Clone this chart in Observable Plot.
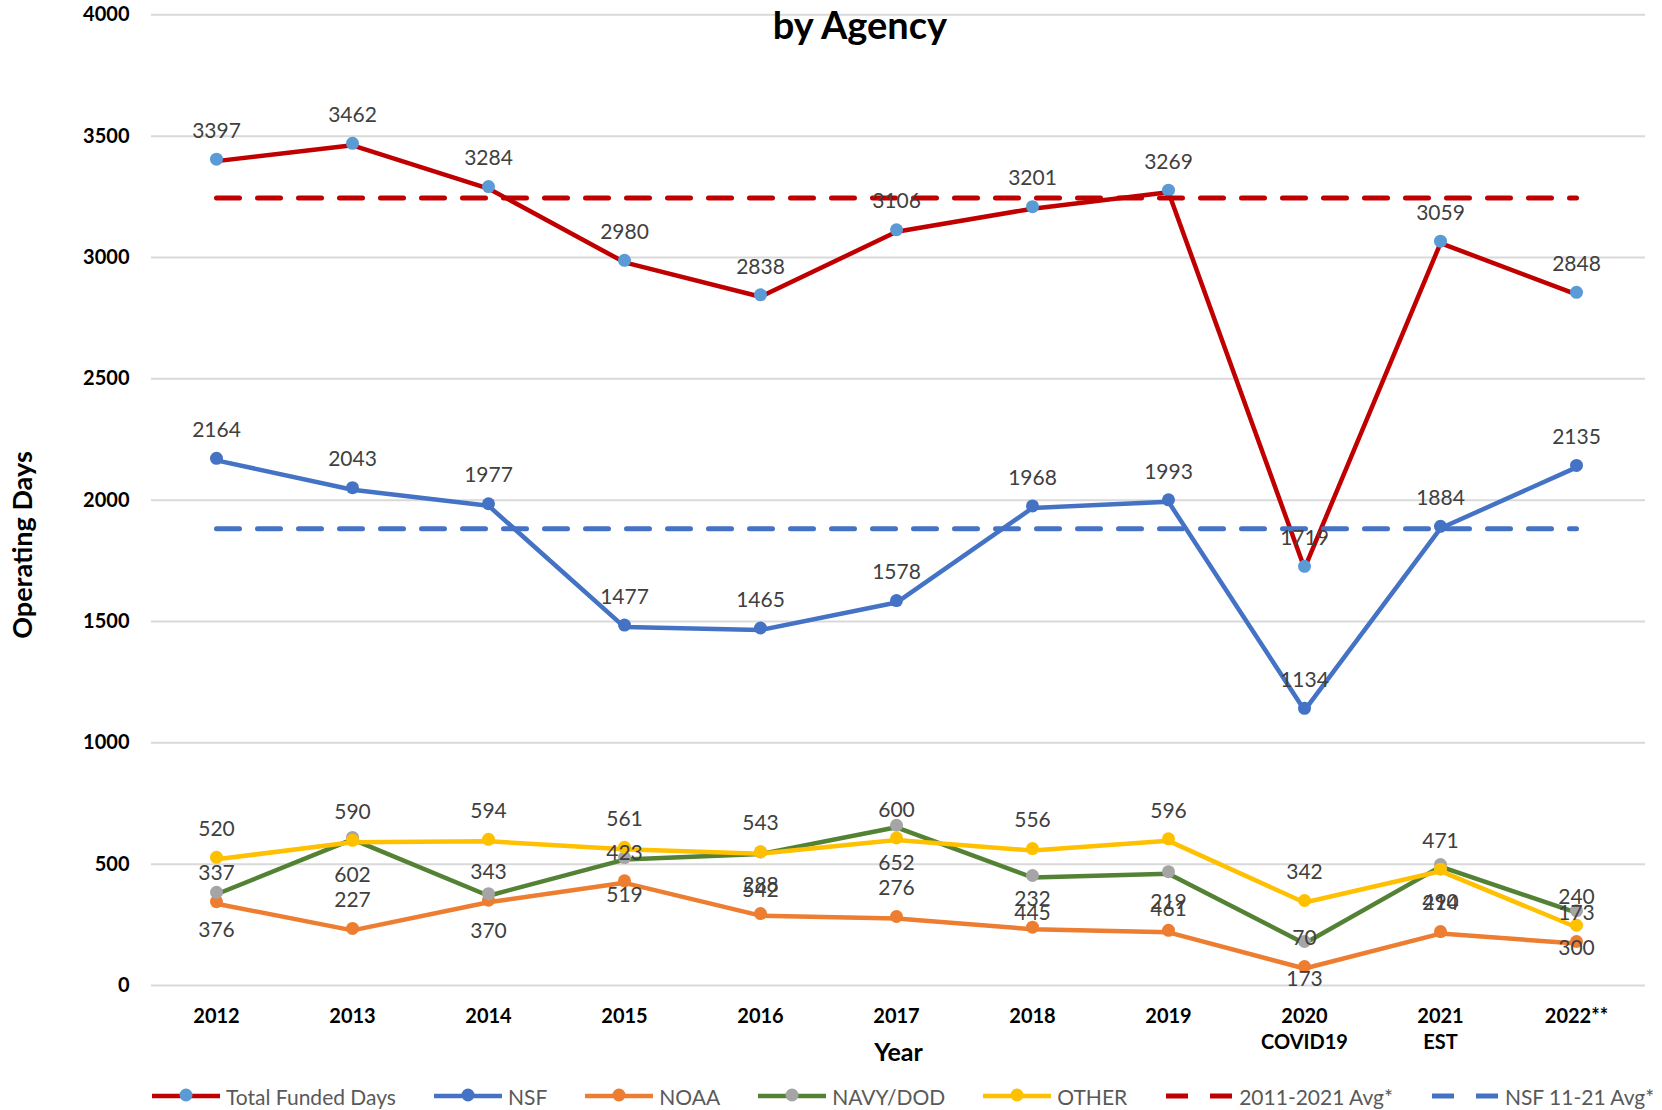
<!DOCTYPE html>
<html>
<head>
<meta charset="utf-8">
<script src="https://cdn.jsdelivr.net/npm/d3@7"></script>
<script src="https://cdn.jsdelivr.net/npm/@observablehq/plot@0.6"></script>
<style>
  body { margin: 0; background: #fff; font-family: Lato, sans-serif; }
  #wrap { position: relative; width: 1662px; height: 1110px; overflow: hidden; }
  #title { position: absolute; left: 660px; width: 400px; top: 4px; text-align: center; font: bold 38px/40px Lato, sans-serif; color: #000; }
  #legend { position: absolute; left: 152px; top: 1082px; height: 28px; display: flex; align-items: center; gap: 38px; font: 21px Lato, sans-serif; color: #595959; white-space: nowrap; }
  .item { display: flex; align-items: center; gap: 6px; }
  .item svg { display: block; }
</style>
</head>
<body>
<div id="wrap">
  <div id="chart"></div>
  <div id="title">by Agency</div>
  <div id="legend"></div>
</div>
<script>
// ---- data ----
const years = ["2012", "2013", "2014", "2015", "2016", "2017", "2018", "2019", "2020", "2021", "2022"];
const tickLabels = ["2012", "2013", "2014", "2015", "2016", "2017", "2018", "2019", "2020\nCOVID19", "2021\nEST", "2022**"];
const totalDays = [3397, 3462, 3284, 2980, 2838, 3106, 3201, 3269, 1719, 3059, 2848];
const nsfDays   = [2164, 2043, 1977, 1477, 1465, 1578, 1968, 1993, 1134, 1884, 2135];
const noaaDays  = [337, 227, 343, 423, 288, 276, 232, 219, 70, 214, 173];
const navyDays  = [376, 602, 370, 519, 542, 652, 445, 461, 173, 490, 300];
const otherDays = [520, 590, 594, 561, 543, 600, 556, 596, 342, 471, 240];
const avgTotal = 3245;   // 2011-2021 Avg*
const avgNsf = 1882;     // NSF 11-21 Avg*
const yTicks = [0, 500, 1000, 1500, 2000, 2500, 3000, 3500, 4000];
const seriesNames = ["Total Funded Days", "NSF", "NOAA", "NAVY/DOD", "OTHER"];
const avgNames = ["2011-2021 Avg*", "NSF 11-21 Avg*"];

// ---- styles ----
const seriesValues = [totalDays, nsfDays, noaaDays, navyDays, otherDays];
const lineColors = ["#C00000", "#4472C4", "#ED7D31", "#548235", "#FFC000"];
const markerColors = ["#5B9BD5", "#4472C4", "#ED7D31", "#A5A5A5", "#FFC000"];
const labelBelow = [false, false, false, true, false];
const avgValues = [avgTotal, avgNsf];
const avgColors = ["#C00000", "#4472C4"];

const series = seriesNames.map((name, k) => ({
  name,
  rows: years.map((year, i) => ({ year, value: seriesValues[k][i], series: name })),
  line: lineColors[k],
  marker: markerColors[k],
  below: labelBelow[k]
}));

const marks = [
  Plot.ruleY(yTicks, { stroke: "#D9D9D9", strokeWidth: 2 }),
  Plot.axisY({ ticks: yTicks, tickSize: 0, tickPadding: 22, tickFormat: d => String(d), fontSize: 20, fontWeight: "bold", fill: "#000", label: null }),
  Plot.axisX({ tickSize: 0, tickPadding: 19, tickFormat: d => tickLabels[years.indexOf(d)], fontSize: 20, fontWeight: "bold", fill: "#000", label: null, lineHeight: 1.3 }),
  Plot.text(["Year"], { frameAnchor: "bottom", lineAnchor: "middle", dy: 67, fontSize: 25, fontWeight: "bold", fill: "#000" }),
  Plot.text(["Operating Days"], { frameAnchor: "left", textAnchor: "middle", lineAnchor: "middle", rotate: -90, dx: -128.5, dy: 45, fontSize: 27, fontWeight: "bold", fill: "#000" })
];

for (const s of series) {
  marks.push(Plot.line(s.rows, { x: "year", y: "value", stroke: s.line, strokeWidth: 4.5, strokeLinejoin: "round", strokeLinecap: "round" }));
  marks.push(Plot.dot(s.rows, { x: "year", y: "value", r: 6.5, fill: s.marker, stroke: "none", dy: -2 }));
}
avgValues.forEach((v, k) => {
  marks.push(Plot.line(years.map(year => ({ year, value: v })), { x: "year", y: "value", stroke: avgColors[k], strokeWidth: 5, strokeDasharray: "23,18" }));
});
for (const s of series) {
  marks.push(Plot.text(s.rows, { x: "year", y: "value", text: d => String(d.value), dy: s.below ? 36 : -30, fontSize: 21, fill: "#404040" }));
}

const chart = Plot.plot({
  width: 1662,
  height: 1075,
  marginTop: 14,
  marginBottom: 90,
  marginLeft: 151,
  marginRight: 17,
  style: { fontFamily: "Lato, sans-serif", background: "white", overflow: "visible" },
  x: { type: "point", domain: years, range: [215, 1576], padding: 0 },
  y: { domain: [0, 4000], range: [985, 14.3] },
  marks
});
document.getElementById("chart").appendChild(chart);

// ---- legend ----
const legend = document.getElementById("legend");
const NS = "http://www.w3.org/2000/svg";
function swatch(color, marker, dashed) {
  const svg = document.createElementNS(NS, "svg");
  svg.setAttribute("width", 68); svg.setAttribute("height", 20);
  const line = document.createElementNS(NS, "line");
  line.setAttribute("x1", dashed ? 1 : 0); line.setAttribute("x2", dashed ? 67 : 68);
  line.setAttribute("y1", 10); line.setAttribute("y2", 10);
  line.setAttribute("stroke", color); line.setAttribute("stroke-width", dashed ? 5 : 4.5);
  if (dashed) line.setAttribute("stroke-dasharray", "22,22");
  svg.appendChild(line);
  if (marker) {
    const c = document.createElementNS(NS, "circle");
    c.setAttribute("cx", 34); c.setAttribute("cy", 9); c.setAttribute("r", 6.5); c.setAttribute("fill", marker);
    svg.appendChild(c);
  }
  return svg;
}
function addItem(label, sw) {
  const it = document.createElement("div"); it.className = "item";
  it.appendChild(sw);
  const t = document.createElement("span"); t.textContent = label;
  it.appendChild(t);
  legend.appendChild(it);
}
series.forEach(s => addItem(s.name, swatch(s.line, s.marker, false)));
avgNames.forEach((n, k) => addItem(n, swatch(avgColors[k], null, true)));
</script>
</body>
</html>
